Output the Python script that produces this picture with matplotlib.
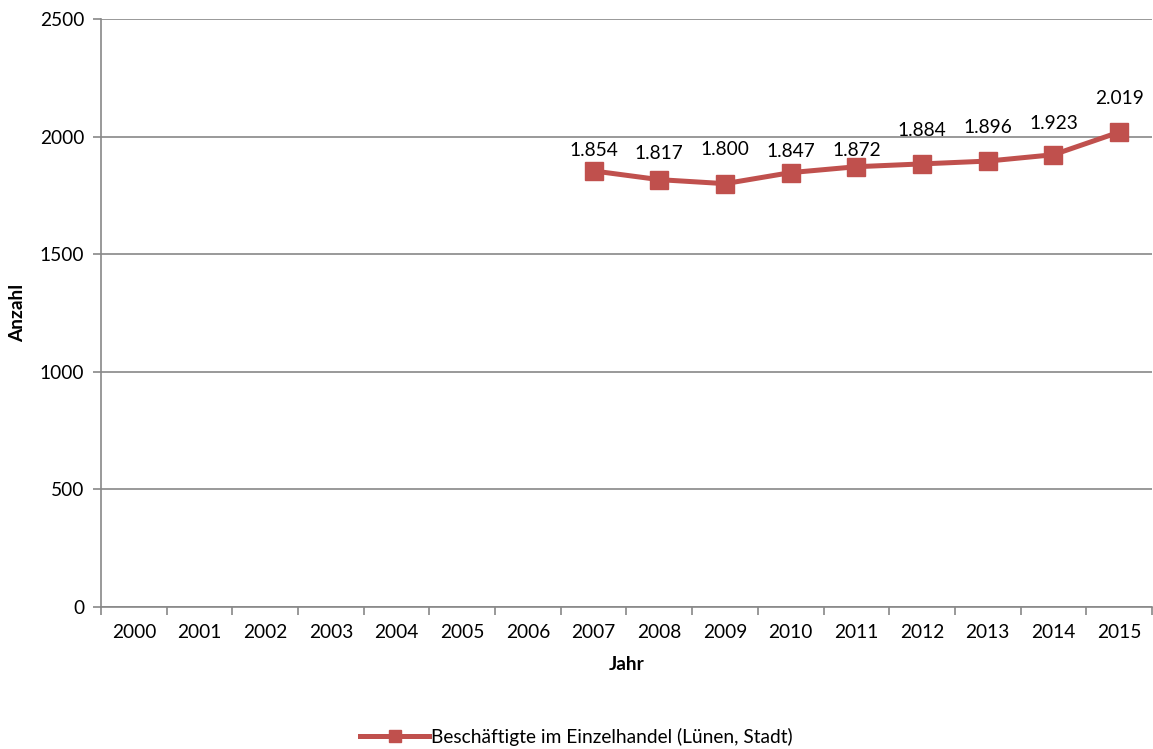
import matplotlib.pyplot as plt
import numpy as np

# data
years = ['2000', '2001', '2002', '2003', '2004', '2005', '2006', '2007',
         '2008', '2009', '2010', '2011', '2012', '2013', '2014', '2015']
data_years = [2007, 2008, 2009, 2010, 2011, 2012, 2013, 2014, 2015]
beschaeftigte = [1854, 1817, 1800, 1847, 1872, 1884, 1896, 1923, 2019]
y_ticks = [0, 500, 1000, 1500, 2000, 2500]

plt.rcParams['font.family'] = ['Lato', 'DejaVu Sans']
grey = '#888888'
red = '#C0504D'
fs = 13.8

fig = plt.figure(figsize=(11.53, 7.49), dpi=100)
ax = fig.add_axes([0.0876, 0.1896, 0.9115, 0.785])

x = np.array([years.index(str(y)) for y in data_years])
ax.plot(x, beschaeftigte, color=red, lw=3.6, marker='s', markersize=13,
        label='Beschäftigte im Einzelhandel (Lünen, Stadt)', zorder=3)

# labels above each point (German thousands separator), offsets as placed in the original
label_offsets = [14.4, 18.7, 24.5, 15.1, 11.5, 23.8, 24.5, 22.3, 24.5]
for xi, v, off in zip(x, beschaeftigte, label_offsets):
    ax.annotate('{:,}'.format(v).replace(',', '.'), (xi, v), xytext=(0, off),
                textcoords='offset points', ha='center', va='center', fontsize=fs)

ax.set_xlim(-0.5, len(years) - 0.5)
ax.set_ylim(0, 2500)
ax.set_yticks(y_ticks)
ax.set_yticklabels([str(t) for t in y_ticks], fontsize=fs)
ax.yaxis.grid(True, color=grey, lw=1.2)
ax.set_axisbelow(True)

ax.set_xticks(np.arange(len(years)))
ax.set_xticklabels(years, fontsize=fs)
ax.set_xticks(np.arange(len(years) + 1) - 0.5, minor=True)
ax.tick_params(axis='x', which='major', length=0, pad=12)
ax.tick_params(axis='x', which='minor', length=6, color=grey, width=1.2)
ax.tick_params(axis='y', length=6, color=grey, width=1.2, pad=6)

for s in ['top', 'right']:
    ax.spines[s].set_visible(False)
for s in ['left', 'bottom']:
    ax.spines[s].set_color(grey)
    ax.spines[s].set_linewidth(1.2)

ax.set_xlabel('Jahr', fontsize=fs, fontweight='bold', labelpad=11)
ax.set_ylabel('Anzahl', fontsize=fs, fontweight='bold', labelpad=10)

fig.legend(loc='center', bbox_to_anchor=(0.5, 0.016), frameon=False, fontsize=fs,
           handlelength=3.6, handletextpad=0.1, markerscale=0.7)

fig.savefig('out.png', dpi=100)
